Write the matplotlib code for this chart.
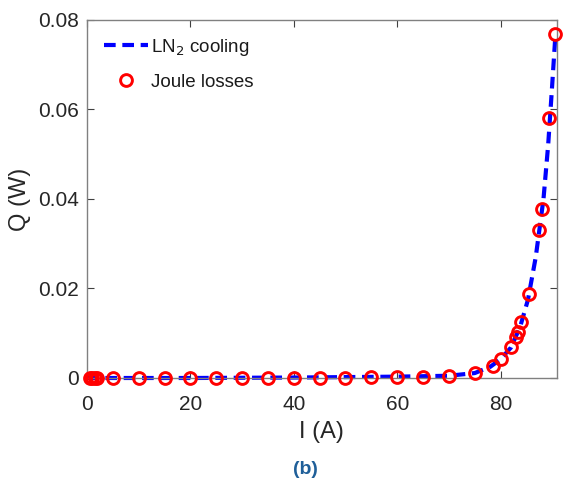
import matplotlib
matplotlib.use("Agg")
import matplotlib.pyplot as plt

plt.rcParams['font.family'] = ['Liberation Sans', 'DejaVu Sans']

# LN2 cooling curve (dashed line)
line_I = [0, 10, 20, 30, 40, 50, 60, 70, 75, 78, 80, 82, 83.8, 85.3, 86.8, 88.3, 89.2, 89.9, 90.6]
line_Q = [0, 0, 0, 0.00005, 0.0001, 0.0002, 0.0003, 0.0005, 0.0011, 0.0025, 0.0042,
          0.0068, 0.0115, 0.0175, 0.027, 0.040, 0.052, 0.064, 0.0765]

# Joule losses (markers)
joule_I = [0.5, 1, 1.5, 2, 5, 10, 15, 20, 25, 30, 35, 40, 45, 50, 55, 60, 65, 70,
           75, 78.5, 80.1, 82.0, 82.9, 83.4, 83.9, 85.5, 87.5, 88.1, 89.4, 90.6]
joule_Q = [0, 0, 0, 0, 0, 0, 0, 0, 0, 0, 0, 0, 0.00005, 0.0001, 0.00015, 0.0002, 0.0003, 0.0004,
           0.0012, 0.0027, 0.0042, 0.0070, 0.0092, 0.0103, 0.0125, 0.0188, 0.0331, 0.0377,
           0.058, 0.0768]

x_ticks = [0, 20, 40, 60, 80]
y_ticks = [0, 0.02, 0.04, 0.06, 0.08]
y_tick_labels = ['0', '0.02', '0.04', '0.06', '0.08']

fig = plt.figure(figsize=(5.64, 4.83), dpi=100)
ax = fig.add_axes([0.1543, 0.2174, 0.987 - 0.1543, 0.9586 - 0.2174])

ax.plot(line_I, line_Q, color=(0, 0, 1), lw=3, dashes=(2.8, 1.6),
        label='LN$_2$ cooling', zorder=2, clip_on=False)
ax.plot(joule_I, joule_Q, linestyle='none', marker='o', ms=8.5, mfc='none',
        mec=(1, 0, 0), mew=2.1, label='Joule losses', zorder=3, clip_on=False)

ax.set_xlim(0, 90.85)
ax.set_ylim(0, 0.08)
ax.set_xticks(x_ticks)
ax.set_yticks(y_ticks)
ax.set_yticklabels(y_tick_labels)

for s in ax.spines.values():
    s.set_color('#808080')
    s.set_linewidth(1.0)
ax.tick_params(direction='in', length=5, width=0.8, color='#404040',
               top=True, right=True, labelsize=15, labelcolor='#262626')
ax.tick_params(axis='x', pad=12)
ax.tick_params(axis='y', pad=6)

ax.set_xlabel('I (A)', fontsize=17, color='#262626')
ax.set_ylabel('Q (W)', fontsize=17, color='#262626')
ax.xaxis.label.set_va('center')
ax.yaxis.label.set_va('center')
ax.xaxis.set_label_coords(0.5, -0.151)
ax.yaxis.set_label_coords(-0.1426, 0.5)

leg = ax.legend(loc='upper left', frameon=False, fontsize=13.5,
                handlelength=2.35, handletextpad=0.15, borderaxespad=0.5,
                labelspacing=0.85, labelcolor='#1a1a1a')

fig.text(305 / 564, 1 - 469 / 483, '(b)', ha='center', va='center', fontsize=14,
         fontweight='bold', color='#1f5f99')

fig.savefig('out.png', dpi=100)
